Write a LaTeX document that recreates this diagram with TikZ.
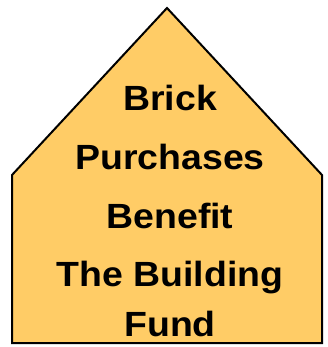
\documentclass[tikz,border=0pt]{standalone}
\usepackage{fontspec}
\setmainfont[FakeStretch=1.07]{Liberation Sans}
\usetikzlibrary{positioning}
\definecolor{brickfill}{RGB}{255,204,102}

\begin{document}
\begin{tikzpicture}[x=1pt,y=-1pt]
    \tikzstyle{house}=[draw=black, fill=brickfill, line width=2pt, line join=miter]
    \tikzstyle{word}=[anchor=base, inner sep=0, font=\fontsize{35}{40}\selectfont\bfseries]

    \useasboundingbox (0,0) rectangle (328,347);
    \coordinate (bl) at (12,343);
    \coordinate (sl) at (12,175);
    \coordinate (top) at (167,8);
    \coordinate (sr) at (322,175);
    \coordinate (br) at (322,343);
    \path[house] (bl) -- (sl) -- (top) -- (sr) -- (br) -- cycle;

    \node[word] (l1) at (170,111) {Brick};
    \node[word] (l2) at (170,170) {Purchases};
    \node[word] (l3) at (170,228) {Benefit};
    \node[word] (l4) at (170,286) {The Building};
    \node[word] (l5) at (170,336) {Fund};
  \end{tikzpicture}
\end{document}
